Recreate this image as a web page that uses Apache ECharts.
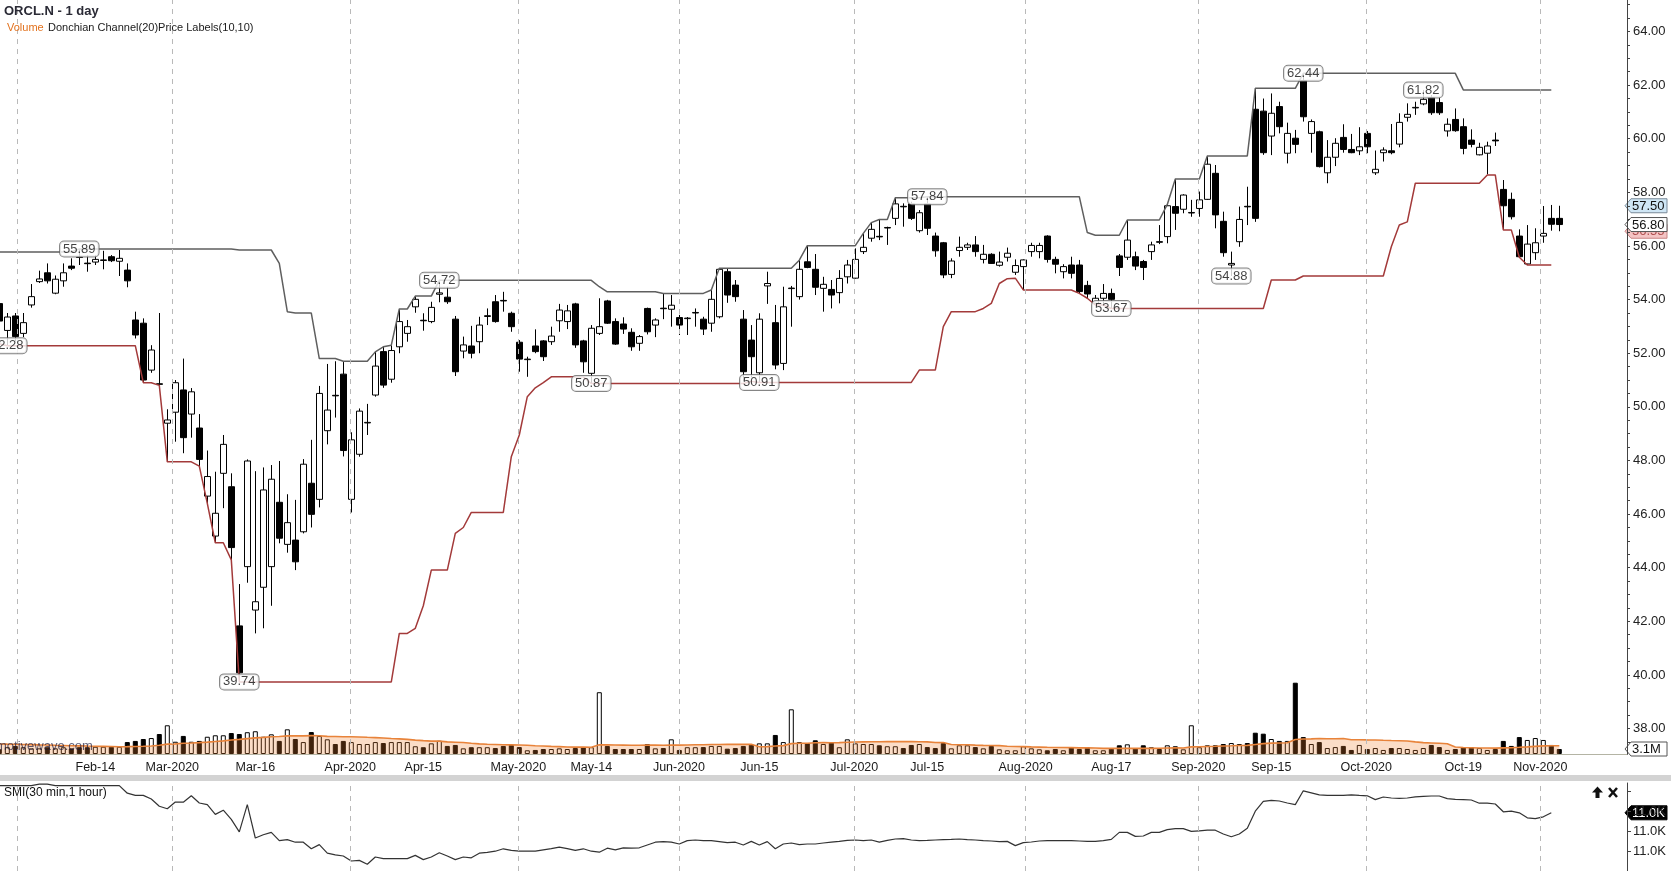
<!DOCTYPE html>
<html><head><meta charset="utf-8">
<script src="https://cdn.jsdelivr.net/npm/echarts@6/dist/echarts.min.js"></script>
<style>html,body{margin:0;padding:0;background:#fff}#c{width:1671px;height:871px}</style>
</head><body><div id="c"></div>
<script>
// ---------------- DATA ----------------
const dates = [
'2020-01-29','2020-01-30','2020-01-31',
'2020-02-03','2020-02-04','2020-02-05','2020-02-06','2020-02-07','2020-02-10','2020-02-11','2020-02-12','2020-02-13','2020-02-14','2020-02-18','2020-02-19','2020-02-20','2020-02-21','2020-02-24','2020-02-25','2020-02-26','2020-02-27','2020-02-28',
'2020-03-02','2020-03-03','2020-03-04','2020-03-05','2020-03-06','2020-03-09','2020-03-10','2020-03-11','2020-03-12','2020-03-13','2020-03-16','2020-03-17','2020-03-18','2020-03-19','2020-03-20','2020-03-23','2020-03-24','2020-03-25','2020-03-26','2020-03-27','2020-03-30','2020-03-31',
'2020-04-01','2020-04-02','2020-04-03','2020-04-06','2020-04-07','2020-04-08','2020-04-09','2020-04-13','2020-04-14','2020-04-15','2020-04-16','2020-04-17','2020-04-20','2020-04-21','2020-04-22','2020-04-23','2020-04-24','2020-04-27','2020-04-28','2020-04-29','2020-04-30',
'2020-05-01','2020-05-04','2020-05-05','2020-05-06','2020-05-07','2020-05-08','2020-05-11','2020-05-12','2020-05-13','2020-05-14','2020-05-15','2020-05-18','2020-05-19','2020-05-20','2020-05-21','2020-05-22','2020-05-26','2020-05-27','2020-05-28','2020-05-29',
'2020-06-01','2020-06-02','2020-06-03','2020-06-04','2020-06-05','2020-06-08','2020-06-09','2020-06-10','2020-06-11','2020-06-12','2020-06-15','2020-06-16','2020-06-17','2020-06-18','2020-06-19','2020-06-22','2020-06-23','2020-06-24','2020-06-25','2020-06-26','2020-06-29','2020-06-30',
'2020-07-01','2020-07-02','2020-07-06','2020-07-07','2020-07-08','2020-07-09','2020-07-10','2020-07-13','2020-07-14','2020-07-15','2020-07-16','2020-07-17','2020-07-20','2020-07-21','2020-07-22','2020-07-23','2020-07-24','2020-07-27','2020-07-28','2020-07-29','2020-07-30','2020-07-31',
'2020-08-03','2020-08-04','2020-08-05','2020-08-06','2020-08-07','2020-08-10','2020-08-11','2020-08-12','2020-08-13','2020-08-14','2020-08-17','2020-08-18','2020-08-19','2020-08-20','2020-08-21','2020-08-24','2020-08-25','2020-08-26','2020-08-27','2020-08-28','2020-08-31',
'2020-09-01','2020-09-02','2020-09-03','2020-09-04','2020-09-08','2020-09-09','2020-09-10','2020-09-11','2020-09-14','2020-09-15','2020-09-16','2020-09-17','2020-09-18','2020-09-21','2020-09-22','2020-09-23','2020-09-24','2020-09-25','2020-09-28','2020-09-29','2020-09-30',
'2020-10-01','2020-10-02','2020-10-05','2020-10-06','2020-10-07','2020-10-08','2020-10-09','2020-10-12','2020-10-13','2020-10-14','2020-10-15','2020-10-16','2020-10-19','2020-10-20','2020-10-21','2020-10-22','2020-10-23','2020-10-26','2020-10-27','2020-10-28','2020-10-29','2020-10-30',
'2020-11-02','2020-11-03','2020-11-04'];

const open = [
53.85,52.85,53.39,52.74,53.80,54.67,55.00,54.24,54.70,55.25,
55.59,55.36,55.40,55.46,55.60,55.43,55.10,53.24,53.12,51.37,
50.86,49.39,49.80,50.63,49.73,49.21,46.67,45.18,47.52,47.02,
41.83,44.04,42.42,43.27,44.04,46.44,44.87,45.03,45.34,47.15,
46.55,49.11,50.43,51.22,46.55,48.23,49.40,50.44,52.06,51.03,
52.24,52.74,53.73,53.23,53.18,54.20,54.09,53.27,52.08,52.27,
52.43,53.37,53.92,53.97,53.49,52.41,51.76,52.27,52.46,52.43,
53.21,53.18,53.84,52.46,51.25,52.74,53.95,53.18,53.09,52.78,
52.37,53.67,53.05,53.68,53.64,53.33,53.29,53.50,53.27,53.12,
53.36,55.04,54.54,53.27,52.49,51.27,54.51,53.14,51.62,54.41,
54.11,55.41,55.13,54.42,54.38,54.26,54.85,54.80,55.79,56.29,
56.36,56.67,57.03,57.48,57.57,56.57,57.57,56.37,56.12,54.94,
55.83,55.95,56.04,55.50,55.69,55.28,55.58,55.02,55.23,55.79,
55.79,56.37,55.50,55.04,55.29,55.29,54.53,53.86,54.05,54.23,
55.63,55.58,55.60,55.42,55.79,56.16,56.35,57.47,57.37,57.23,
57.40,57.74,58.71,56.92,55.29,56.16,57.48,61.10,61.03,60.10,
61.20,59.46,60.02,62.17,60.20,60.26,58.73,59.31,60.05,59.60,
59.55,60.20,58.73,59.48,59.55,59.80,60.80,61.15,61.30,61.53,
61.35,60.29,60.72,60.45,59.95,59.40,59.46,59.95,58.11,57.74,
56.37,55.33,55.75,56.37,57.03,57.03];

const high = [
54.00,53.50,53.50,53.50,54.58,55.08,55.35,54.90,55.35,55.54,
55.89,55.66,55.66,55.82,55.66,55.85,55.35,53.55,53.30,52.30,
53.50,49.91,51.00,51.80,50.70,49.73,48.37,47.58,48.95,47.52,
43.39,48.04,47.60,47.74,47.83,47.98,46.74,46.53,48.05,48.77,
50.78,51.60,51.70,51.67,49.05,49.94,50.11,52.05,52.24,52.30,
53.65,53.24,54.13,53.49,53.92,54.72,54.48,53.39,52.62,53.02,
53.36,53.67,54.17,54.29,53.55,52.49,51.87,52.89,52.49,52.99,
53.84,53.80,53.88,52.50,53.05,54.05,53.99,53.30,53.34,52.93,
52.68,53.70,53.30,54.23,54.17,53.43,53.35,53.67,53.36,54.36,
55.17,55.17,54.73,53.61,53.05,53.49,55.04,53.80,54.48,54.51,
55.47,56.01,55.70,54.85,54.73,55.10,55.48,55.91,56.47,56.87,
56.99,56.72,57.80,57.59,57.65,57.34,57.84,56.50,56.15,55.54,
56.35,56.12,56.37,56.04,55.73,55.79,55.94,55.50,55.50,56.12,
56.12,56.40,55.60,55.32,55.60,55.48,54.70,54.17,54.58,54.41,
55.70,56.97,55.79,55.48,56.16,56.78,57.55,58.50,57.93,57.72,
58.03,59.36,59.02,57.28,55.79,57.47,58.21,61.88,61.50,61.69,
61.38,60.60,60.33,62.44,60.72,60.30,59.95,60.02,60.54,60.18,
60.43,60.29,59.56,59.68,60.55,60.95,61.32,61.38,61.82,61.63,
61.54,60.76,61.13,60.76,60.35,59.85,59.89,60.23,58.46,57.99,
56.62,56.78,56.66,57.49,57.53,57.50];

const low = [
52.90,52.28,52.45,52.60,53.70,54.62,54.60,54.20,54.48,55.10,
55.29,55.04,55.29,55.13,55.40,54.88,54.46,52.55,50.90,51.27,
50.80,47.95,48.70,48.27,48.85,47.79,46.40,44.93,46.22,44.29,
39.74,43.44,41.55,41.74,42.58,44.91,44.56,43.91,45.28,45.50,
46.25,48.60,49.60,48.15,46.06,48.14,48.95,50.38,50.71,50.90,
52.00,52.43,53.51,52.84,53.12,53.90,53.84,51.15,51.81,51.81,
52.00,53.05,53.14,53.55,52.80,51.31,51.12,52.00,51.71,52.31,
52.80,52.90,52.20,51.27,50.87,52.68,53.09,52.31,52.72,52.09,
52.09,52.70,52.60,53.27,52.99,52.68,52.68,52.99,52.68,52.80,
53.30,53.88,53.92,50.95,51.10,50.91,53.84,51.40,51.37,52.99,
54.00,55.17,54.17,53.55,53.67,53.86,54.60,54.78,55.70,56.16,
56.22,56.04,56.78,56.72,56.97,56.50,56.41,55.60,54.80,54.80,
55.60,55.85,55.60,55.35,55.33,55.23,55.42,54.92,54.36,55.60,
55.54,55.38,54.98,54.79,54.79,54.23,54.05,53.80,53.80,53.67,
54.88,55.48,55.10,54.73,55.48,56.07,56.10,56.60,57.22,57.09,
57.09,57.72,56.66,55.60,54.88,55.97,56.78,56.90,59.40,59.39,
60.20,59.08,59.46,60.64,59.48,58.93,58.34,58.98,59.48,59.46,
59.39,59.46,58.65,59.15,59.42,59.68,60.64,60.89,61.25,60.89,
60.89,60.08,60.26,59.42,59.68,59.38,58.67,59.73,56.60,56.99,
55.58,55.29,55.48,56.12,56.57,56.55];

const close = [
53.20,53.35,52.62,53.14,54.11,54.77,54.70,54.76,55.00,55.17,
55.57,55.34,55.50,55.48,55.45,55.54,54.70,52.68,51.00,52.12,
50.84,49.51,50.90,48.85,50.56,48.04,47.40,46.03,48.60,44.75,
40.08,47.98,42.73,46.90,47.30,45.10,45.68,44.22,47.86,45.99,
50.50,49.88,50.41,48.37,48.77,49.84,49.42,51.52,50.81,52.10,
53.18,52.99,54.01,53.21,53.71,54.25,53.92,51.31,52.31,52.00,
53.05,53.40,53.18,53.95,52.99,51.78,51.78,52.06,51.87,52.64,
53.61,53.58,52.31,51.68,52.93,52.99,53.12,52.34,52.90,52.24,
52.62,52.80,53.24,53.66,53.79,53.05,53.31,53.52,52.90,54.01,
55.13,54.17,54.11,51.31,51.87,53.27,54.60,51.56,53.73,54.43,
55.13,55.20,54.46,54.57,54.17,54.79,55.29,55.50,55.95,56.62,
56.34,56.69,57.57,57.46,57.03,57.24,56.66,55.82,54.92,55.44,
55.95,56.04,55.79,55.69,55.35,55.40,55.73,55.27,55.48,56.02,
56.02,55.50,55.32,55.23,54.98,54.30,54.21,54.05,54.23,54.01,
55.20,56.22,55.25,55.20,56.04,56.14,57.50,57.22,57.90,57.25,
57.72,59.05,57.16,55.75,55.35,56.99,57.46,57.03,59.48,60.95,
60.45,60.20,59.79,60.82,60.64,58.96,59.31,59.83,59.60,59.48,
59.70,59.70,58.86,59.58,59.48,60.61,60.91,61.17,61.47,60.97,
60.97,60.54,60.30,59.64,59.79,59.68,59.73,59.92,57.50,57.09,
55.60,56.07,56.12,56.47,56.81,56.80];

// volume, millions of shares
const volume = [
2.9,4.2,5.0,4.2,3.5,3.5,4.2,3.5,4.2,3.5,
4.2,4.2,4.5,4.5,4.5,4.5,7.4,8.1,9.3,9.9,
12.4,17.8,7.6,11.2,7.6,8.1,10.7,11.6,11.6,13.0,
12.4,13.5,14.1,10.7,12.2,8.1,15.3,9.3,7.4,13.6,
11.2,9.1,6.2,8.1,7.4,6.2,6.2,7.4,6.8,7.4,
7.4,7.4,4.8,4.2,6.6,8.2,5.0,5.6,3.5,4.2,
4.2,4.2,3.7,5.0,5.6,4.3,2.3,2.5,3.1,3.1,
3.5,3.1,3.7,4.3,4.2,38.3,5.0,3.1,3.1,3.1,
3.1,6.2,3.5,3.7,9.1,2.5,4.2,4.2,4.3,5.0,
5.0,3.3,3.7,5.0,5.8,6.6,6.6,11.8,7.4,27.7,
7.4,6.8,8.5,6.2,7.4,4.2,9.1,6.6,6.2,6.2,
5.4,4.8,4.8,3.7,5.6,6.2,4.3,3.7,6.8,3.5,
5.4,5.4,4.3,3.5,5.0,2.9,2.3,2.3,4.8,3.5,
2.9,2.3,3.1,2.3,4.2,3.1,4.2,2.3,2.3,3.3,
5.4,6.0,3.5,5.4,4.2,3.1,5.4,4.8,2.9,17.8,
4.2,5.4,5.4,6.2,6.8,6.2,6.8,13.2,12.6,9.3,
8.1,8.1,44.2,10.5,6.2,7.4,3.7,4.3,5.0,2.5,
5.6,3.1,3.7,2.5,3.7,3.7,3.1,2.5,3.7,5.6,
4.3,2.5,3.1,4.2,4.2,3.7,2.5,3.1,8.1,5.0,
10.5,8.7,9.9,8.7,5.6,3.1];

// SMI(30 min,1 hour) values (drawn through the bar before the last)
const smi = [
11002.7,11002.7,11002.7,11002.7,11002.7,11003.4,11003.4,11002.7,11002.7,11002.7,
11002.7,11002.7,11002.7,11002.7,11002.7,11002.7,10998.9,10997.8,10997.8,10996.0,
10992.4,10991.1,10994.5,10994.4,10997.6,10994.0,10993.2,10988.3,10990.4,10985.8,
10979.6,10993.2,10976.5,10978.1,10979.3,10975.2,10975.7,10974.4,10974.4,10971.1,
10973.2,10968.9,10968.1,10967.5,10965.0,10965.3,10963.4,10967.0,10966.2,10966.2,
10966.2,10966.2,10967.8,10965.7,10967.0,10969.1,10967.5,10965.7,10967.0,10966.6,
10968.9,10969.3,10969.9,10971.1,10970.3,10969.9,10969.9,10969.9,10970.6,10971.2,
10971.9,10971.2,10970.3,10971.1,10969.9,10969.4,10971.4,10970.6,10971.6,10971.4,
10971.6,10973.0,10974.4,10974.7,10974.4,10973.5,10975.2,10975.5,10975.2,10975.2,
10974.7,10974.2,10974.4,10973.0,10974.8,10973.0,10974.7,10971.1,10973.5,10974.0,
10973.2,10973.5,10973.5,10974.0,10974.4,10974.8,10975.3,10975.5,10975.2,10975.5,
10974.4,10975.3,10976.0,10976.2,10975.5,10975.2,10975.3,10975.5,10975.7,10975.8,
10976.0,10975.7,10975.5,10975.2,10975.0,10974.7,10974.8,10972.7,10974.2,10974.5,
10975.0,10975.2,10975.2,10975.2,10975.2,10975.0,10974.8,10974.8,10975.2,10975.8,
10979.3,10979.3,10977.3,10977.5,10979.3,10979.3,10980.7,10981.2,10981.2,10979.8,
10980.1,10980.4,10980.4,10978.5,10977.1,10978.5,10981.4,10989.9,10994.8,10995.3,
10995.0,10994.0,10993.2,11000.1,10999.1,10998.1,10997.8,10997.8,10997.8,10998.1,
10997.8,10997.6,10995.7,10997.0,10996.5,10996.3,10996.5,10997.1,10997.3,10997.5,
10997.5,10996.2,10995.8,10995.7,10995.5,10993.9,10993.9,10993.5,10989.6,10989.9,
10989.1,10986.6,10986.2,10987.1,10989.1];

// swing-point price labels
const labelDates  = ['2020-01-30','2020-02-12','2020-03-12','2020-04-17','2020-05-14','2020-06-15','2020-07-15','2020-08-17','2020-09-08','2020-09-21','2020-10-12'];
const labelPrices = [52.28, 55.89, 39.74, 54.72, 50.87, 50.91, 57.84, 53.67, 54.88, 62.44, 61.82];

// axis tick labels
const midMonthTicks = ['2020-02-14','2020-03-16','2020-04-15','2020-05-14','2020-06-15','2020-07-15','2020-08-17','2020-09-15','2020-10-19'];
const monthStarts = ['2020-02-01','2020-03-01','2020-04-01','2020-05-01','2020-06-01','2020-07-01','2020-08-01','2020-09-01','2020-10-01','2020-11-01'];
const labeledMonths = ['2020-03-01','2020-04-01','2020-05-01','2020-06-01','2020-07-01','2020-08-01','2020-09-01','2020-10-01','2020-11-01'];
const priceTicks = [38,40,42,44,46,48,50,52,54,56,58,60,62,64];
const smiTicks = [10970,10980,10990];

// indicator settings
const DC_LEN = 20;
const dcSeedHigh = 55.78, dcSeedLow = 52.35;   // January values before the visible window
const VOL_MA_LEN = 20, volSeed = 6.4;

// ---------------- DERIVED ----------------
const N = dates.length;
const MON = ['Jan','Feb','Mar','Apr','May','Jun','Jul','Aug','Sep','Oct','Nov','Dec'];
const barTime = dates.map(d => Date.parse(d + 'T03:00:00Z'));
function calendarPos(day) {
  const t = Date.parse(day + 'T00:00:00Z');
  let k = 0; while (k + 1 < N && barTime[k + 1] <= t) k++;
  return k + (t - barTime[k]) / (barTime[k + 1] - barTime[k]);
}
const monthPos = monthStarts.map(calendarPos);
const tickPos = [], labelMap = {};
midMonthTicks.forEach(d => { const p = dates.indexOf(d); tickPos.push(p);
  labelMap[p.toFixed(3)] = MON[+d.slice(5,7)-1] + '-' + d.slice(8,10); });
labeledMonths.forEach(d => { const p = calendarPos(d); tickPos.push(p);
  labelMap[p.toFixed(3)] = MON[+d.slice(5,7)-1] + '-' + d.slice(0,4); });
tickPos.sort((a,b)=>a-b);

const dcUpper = [], dcLower = [];
for (let i = 0; i < N - 1; i++) {
  let hi = i < DC_LEN - 1 ? dcSeedHigh : -Infinity, lo = i < DC_LEN - 1 ? dcSeedLow : Infinity;
  for (let j = Math.max(0, i - DC_LEN + 1); j <= i; j++) { hi = Math.max(hi, high[j]); lo = Math.min(lo, low[j]); }
  dcUpper.push([i, hi]); dcLower.push([i, lo]);
}
const volMA = volume.map((v, i) => {
  let s = 0;
  for (let j = i - VOL_MA_LEN + 1; j <= i; j++) s += j < 0 ? volSeed : volume[j];
  return [i, s / VOL_MA_LEN];
});

// ---------------- CHART ----------------
const FONT = 'Arial, "Liberation Sans", Helvetica, sans-serif';
const XMIN = 0.0875, XMAX = 203.4625;
const chart = echarts.init(document.getElementById('c'));
const dashed = { silent: true, symbol: ['none','none'], label: { show: false },
  lineStyle: { color: '#b9b9b9', type: [5, 5], width: 1 },
  data: monthPos.map(p => ({ xAxis: p })) };

chart.setOption({
  animation: false,
  backgroundColor: '#ffffff',
  textStyle: { fontFamily: FONT },
  grid: [
    { left: 0, right: 44, top: 0, height: 754 },
    { left: 0, right: 44, top: 654, height: 100 },
    { left: 0, right: 44, top: 783, height: 88 }
  ],
  xAxis: [
    { type: 'value', gridIndex: 0, min: XMIN, max: XMAX, show: false },
    { type: 'value', gridIndex: 1, min: XMIN, max: XMAX, position: 'bottom', offset: 5,
      axisLine: { show: true, lineStyle: { color: '#000', width: 1 } },
      axisTick: { show: true, inside: true, length: 5, customValues: tickPos, lineStyle: { color: '#000' } },
      axisLabel: { customValues: tickPos, margin: 2, color: '#1a1a1a', fontSize: 12.5, fontFamily: FONT,
        formatter: v => labelMap[v.toFixed(3)] || '' },
      splitLine: { show: false } },
    { type: 'value', gridIndex: 2, min: XMIN, max: XMAX, show: false }
  ],
  yAxis: [
    { type: 'value', gridIndex: 0, position: 'right', min: 37.051, max: 65.175,
      axisLine: { show: true, lineStyle: { color: '#444' } },
      axisTick: { show: true, length: 3, customValues: Array.from({length: 56}, (_, k) => 37.5 + k * 0.5), lineStyle: { color: '#444' } },
      axisLabel: { customValues: priceTicks, formatter: v => v.toFixed(2), color: '#222', fontSize: 13, margin: 6, fontFamily: FONT },
      splitLine: { show: false } },
    { type: 'value', gridIndex: 1, min: 0, max: 62, show: false },
    { type: 'value', gridIndex: 2, position: 'right', min: 10960, max: 11004,
      axisLine: { show: true, lineStyle: { color: '#444' } },
      axisTick: { show: true, length: 4, customValues: [10970, 10980, 10990, 11000], lineStyle: { color: '#444' } },
      axisLabel: { customValues: smiTicks, formatter: v => (v / 1000).toFixed(1) + 'K', color: '#222', fontSize: 13, margin: 6, fontFamily: FONT },
      splitLine: { show: false } }
  ],
  series: [
    { name: 'grid', type: 'line', xAxisIndex: 0, yAxisIndex: 0, data: [], z: 1, silent: true, markLine: dashed },
    { name: 'ORCL.N', type: 'candlestick', xAxisIndex: 0, yAxisIndex: 0, z: 3, barWidth: 6,
      encode: { x: 0, y: [1, 2, 3, 4] },
      data: dates.map((d, i) => [i, open[i], close[i], low[i], high[i]]),
      itemStyle: { color: '#ffffff', color0: '#000000', borderColor: '#000000', borderColor0: '#000000', borderWidth: 1 } },
    { name: 'DC upper', type: 'line', xAxisIndex: 0, yAxisIndex: 0, z: 4, data: dcUpper, symbol: 'none',
      lineStyle: { color: '#5f5f5f', width: 1.5 } },
    { name: 'DC lower', type: 'line', xAxisIndex: 0, yAxisIndex: 0, z: 4, data: dcLower, symbol: 'none',
      lineStyle: { color: '#a33a3a', width: 1.5 } },
    { name: 'Volume', type: 'bar', xAxisIndex: 1, yAxisIndex: 1, z: 2, barWidth: 5,
      data: volume.map((v, i) => [i, v]),
      itemStyle: { color: p => close[p.dataIndex] >= open[p.dataIndex] ? '#ffffff' : '#000000', borderColor: '#000', borderWidth: 1 },
      markLine: { silent: true, symbol: ['none','none'], label: { show: false }, lineStyle: { color: '#b4b4a4', type: 'solid', width: 1 }, data: [{ yAxis: 0 }] } },
    { name: 'Volume MA', type: 'line', xAxisIndex: 1, yAxisIndex: 1, z: 3, data: volMA, symbol: 'none',
      lineStyle: { color: '#e8833a', width: 1.6 },
      areaStyle: { color: 'rgba(240,128,45,0.38)' } },
    { name: 'Price Labels', type: 'scatter', xAxisIndex: 0, yAxisIndex: 0, z: 6, symbolSize: 1,
      itemStyle: { color: 'rgba(0,0,0,0)' },
      data: labelDates.map((d, k) => [dates.indexOf(d), labelPrices[k]]),
      label: { show: true, position: 'inside', formatter: p => p.value[1].toFixed(2),
        color: '#111', fontSize: 13, fontFamily: FONT, backgroundColor: '#ffffff', borderColor: '#666',
        borderWidth: 1, borderRadius: 4, padding: [1, 3, 0, 3], lineHeight: 14 } },
    { name: 'SMI', type: 'line', xAxisIndex: 2, yAxisIndex: 2, z: 3, symbol: 'none',
      data: smi.map((v, i) => [i, v]), lineStyle: { color: '#333', width: 1.2 }, markLine: dashed }
  ]
});

// ---------------- OVERLAYS ----------------
const last = N - 1;
function valueBox(y, text, fill, stroke, tcolor, z, bold) {
  const x0 = 1625, w = 42, h = 14;
  return { type: 'group', z: z, silent: true, children: [
    { type: 'polygon', shape: { points: [[x0, y], [x0 + 6, y - h / 2], [x0 + w, y - h / 2], [x0 + w, y + h / 2], [x0 + 6, y + h / 2]] },
      style: { fill: fill, stroke: stroke, lineWidth: 1 } },
    { type: 'text', x: x0 + 7, y: y + 0.5, style: { text: text, fill: tcolor, font: (bold ? 'bold ' : '') + '13px ' + FONT, verticalAlign: 'middle' } }
  ]};
}
const yLow = chart.convertToPixel({ yAxisIndex: 0 }, low[last]);
const yHigh = chart.convertToPixel({ yAxisIndex: 0 }, high[last]);
const yClose = chart.convertToPixel({ yAxisIndex: 0 }, close[last]);
const yVol = chart.convertToPixel({ yAxisIndex: 1 }, volume[last]);
const ySmi = chart.convertToPixel({ yAxisIndex: 2 }, smi[smi.length - 1]);

chart.setOption({ graphic: [
  { type: 'rect', shape: { x: 0, y: 775, width: 1671, height: 6 }, style: { fill: '#d3d3d3' }, silent: true, z: 50 },
  { type: 'text', x: 4, y: 11, style: { text: 'ORCL.N - 1 day', font: 'bold 13px ' + FONT, fill: '#2a2a35', verticalAlign: 'middle' }, z: 60 },
  { type: 'text', x: 7, y: 28, style: { text: 'Volume', font: '11px ' + FONT, fill: '#e2711d', verticalAlign: 'middle' }, z: 60 },
  { type: 'text', x: 48, y: 28, style: { text: 'Donchian Channel(20)Price Labels(10,10)', font: '11px ' + FONT, fill: '#1a1a1a', verticalAlign: 'middle' }, z: 60 },
  { type: 'text', x: -4, y: 746, style: { text: 'motivewave.com', font: '13px ' + FONT, fill: 'rgba(25,25,60,0.7)', verticalAlign: 'middle' }, z: 60 },
  { type: 'text', x: 4, y: 793, style: { text: 'SMI(30 min,1 hour)', font: '12px ' + FONT, fill: '#111', verticalAlign: 'middle' }, z: 60 },
  { type: 'polygon', shape: { points: [[1597.5, 786.5], [1603, 792.5], [1599.5, 792.5], [1599.5, 798], [1595.5, 798], [1595.5, 792.5], [1592, 792.5]] }, style: { fill: '#111' }, z: 60 },
  { type: 'line', shape: { x1: 1609, y1: 788, x2: 1617, y2: 797 }, style: { stroke: '#111', lineWidth: 2.5 }, z: 60 },
  { type: 'line', shape: { x1: 1617, y1: 788, x2: 1609, y2: 797 }, style: { stroke: '#111', lineWidth: 2.5 }, z: 60 },
  valueBox(yLow, low[last].toFixed(2), '#f4c4c4', '#c98484', '#b05050', 61),
  valueBox(yHigh, high[last].toFixed(2), '#cfe6f5', '#7a8a99', '#111', 62),
  valueBox(yClose, close[last].toFixed(2), '#ffffff', '#555', '#111', 63),
  valueBox(yVol, volume[last].toFixed(1) + 'M', '#ffffff', '#555', '#111', 63),
  valueBox(ySmi, (smi[smi.length - 1] / 1000).toFixed(1) + 'K', '#000000', '#000', '#ffffff', 63)
]});
</script>
</body></html>
